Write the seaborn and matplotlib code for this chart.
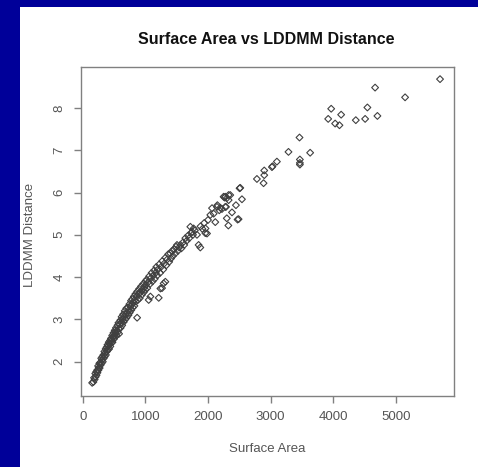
import matplotlib
matplotlib.use("Agg")
import matplotlib.pyplot as plt
import seaborn as sns
import pandas as pd
from matplotlib.patches import Rectangle

# ---- data ----
surface_area = [
    # dense low end
    150, 170, 180, 190, 200, 205, 215, 220, 230, 235,
    245, 250, 255, 265, 270, 280, 285, 295, 300, 305,
    315, 320, 330, 335, 345, 350, 355, 365, 370, 380,
    385, 395, 400, 405, 415, 420, 430, 435, 440, 450,
    455, 460, 470, 475, 485, 490, 500, 500,
    510, 515, 525, 530, 540, 545, 555, 560, 570, 575,
    580, 590, 600, 605, 615, 620, 630, 640, 645, 655,
    660, 670, 680, 685, 695, 700, 710, 720, 730, 735,
    745, 750, 760, 770, 775, 785, 790, 800, 810, 815,
    825, 830, 840, 850, 860, 868, 870, 880, 890, 900,
    910, 920, 930, 945, 955, 965, 975, 985, 1000, 1000,
    1010, 1020, 1030, 1045, 1053, 1060, 1075, 1080, 1090, 1100,
    1115, 1125, 1140, 1150, 1165, 1175, 1190, 1200, 1213, 1220,
    1235, 1240, 1250, 1266, 1270, 1285, 1292, 1300, 1319, 1320,
    1335, 1350, 1365, 1380, 1399, 1410, 1425, 1440, 1460, 1478,
    1490, 1505,
    # middle
    1520, 1540, 1558, 1575, 1600, 1620, 1638, 1660, 1680, 1700, 1718, 1730, 1745, 1760, 1770,
    1790, 1824, 1850, 1877, 1880, 1910, 1940, 1957, 1960, 1984, 2000, 2037, 2064, 2090, 2116,
    2143, 2150, 2180, 2196, 2223, 2249, 2265, 2276, 2276, 2287, 2300, 2303, 2325, 2329, 2329,
    2355, 2383, 2446, 2472, 2488, 2504, 2515, 2542,
    # sparse high end
    2781, 2887, 2898, 2898, 3021, 3030, 3100, 3285, 3461, 3467, 3467, 3467, 3631,
    3919, 3967, 4030, 4099, 4126, 4360, 4509, 4545, 4668, 4705, 5147, 5705,
]
lddmm_distance = [
    1.50, 1.52, 1.62, 1.58, 1.72, 1.64, 1.76, 1.68, 1.80, 1.74,
    1.90, 1.80, 1.86, 1.96, 1.85, 1.98, 1.92, 2.08, 1.96, 2.04,
    2.12, 2.00, 2.16, 2.08, 2.24, 2.12, 2.20, 2.30, 2.16, 2.34,
    2.24, 2.40, 2.28, 2.36, 2.46, 2.30, 2.42, 2.50, 2.36, 2.55,
    2.44, 2.50, 2.62, 2.46, 2.58, 2.68, 2.54, 2.62,
    2.74, 2.58, 2.68, 2.80, 2.62, 2.74, 2.86, 2.70, 2.92, 2.78,
    2.66, 2.88, 2.98, 2.80, 2.92, 3.06, 2.86, 3.00, 3.12, 2.94,
    3.06, 3.20, 3.00, 3.12, 3.26, 3.04, 3.16, 3.28, 3.10, 3.22,
    3.36, 3.16, 3.30, 3.44, 3.22, 3.36, 3.48, 3.28, 3.40, 3.54,
    3.32, 3.46, 3.60, 3.42, 3.54, 3.04, 3.66, 3.46, 3.60, 3.72,
    3.50, 3.64, 3.78, 3.58, 3.70, 3.84, 3.64, 3.76, 3.90, 3.70,
    3.82, 3.94, 3.74, 3.88, 3.46, 4.02, 3.84, 3.54, 3.98, 4.10,
    3.90, 4.04, 4.16, 3.96, 4.10, 4.24, 4.04, 4.18, 3.51, 4.30,
    4.10, 3.73, 4.24, 3.74, 4.38, 4.18, 3.85, 4.32, 3.89, 4.46,
    4.28, 4.42, 4.54, 4.36, 4.56, 4.44, 4.62, 4.50, 4.66, 4.56,
    4.72, 4.76,
    4.62, 4.70, 4.76, 4.68, 4.82, 4.76, 4.92, 4.86, 4.98, 4.92, 5.19, 5.04, 5.07, 5.00, 5.15,
    5.10, 5.00, 4.76, 4.70, 5.20, 5.14, 5.28, 5.04, 5.15, 5.03, 5.35, 5.47, 5.63, 5.50, 5.30,
    5.66, 5.70, 5.58, 5.64, 5.61, 5.90, 5.88, 5.66, 5.90, 5.66, 5.39, 5.87, 5.22, 5.82, 5.94,
    5.94, 5.53, 5.70, 5.36, 5.37, 6.10, 6.11, 5.84,
    6.32, 6.22, 6.41, 6.52, 6.60, 6.62, 6.73, 6.96, 7.30, 6.78, 6.70, 6.66, 6.94,
    7.74, 7.98, 7.63, 7.59, 7.84, 7.71, 7.74, 8.01, 8.48, 7.81, 8.25, 8.68,
]
x_ticks = [0, 1000, 2000, 3000, 4000, 5000]
y_ticks = [2, 3, 4, 5, 6, 7, 8]
title = "Surface Area vs LDDMM Distance"
x_label = "Surface Area"
y_label = "LDDMM Distance"

df = pd.DataFrame({"Surface Area": surface_area, "LDDMM Distance": lddmm_distance})

# ---- figure ----
sns.set_style("white")
plt.rcParams["font.family"] = ["Liberation Sans", "DejaVu Sans"]

fig = plt.figure(figsize=(4.78, 4.67), dpi=100)
fig.patch.set_facecolor("#000099")
fig.patches.append(Rectangle((20 / 478, 0), 1 - 20 / 478, 1 - 7 / 467,
                             transform=fig.transFigure, facecolor="white",
                             edgecolor="none", zorder=-5))

ax = fig.add_axes([81 / 478, 1 - 396 / 467, (454 - 81) / 478, (396 - 67) / 467])
ax.set_zorder(2)
ax.set_facecolor("white")

sns.scatterplot(data=df, x="Surface Area", y="LDDMM Distance", ax=ax,
                marker="D", s=12, facecolor="none", edgecolor="#404040",
                linewidth=0.8, legend=False)

ax.set_xlim(-28, 5928)
ax.set_ylim(1.189, 8.967)
ax.set_xticks(x_ticks)
ax.set_yticks(y_ticks)
ax.set_xticklabels([str(t) for t in x_ticks])
ax.set_yticklabels([str(t) for t in y_ticks], rotation=90, va="center")

for sp in ax.spines.values():
    sp.set_visible(True)
    sp.set_color("#808080")
    sp.set_linewidth(1.0)

ax.tick_params(axis="both", direction="out", length=5, width=1.0, color="#808080",
               labelsize=9.5, labelcolor="#555555", pad=6, bottom=True, left=True)

ax.set_xlabel("")
ax.set_ylabel("")
fig.text(267 / 478, 1 - 449 / 467, x_label, ha="center", va="center",
         fontsize=9.5, color="#555555", zorder=3)
fig.text(30 / 478, 1 - 235 / 467, y_label, ha="center", va="center",
         rotation=90, fontsize=9.5, color="#555555", zorder=3)
fig.text(266 / 478, 1 - 39 / 467, title, ha="center", va="center",
         fontsize=11.5, fontweight="bold", color="#111111", zorder=3)

fig.savefig("out.png", dpi=100, facecolor=fig.get_facecolor())
